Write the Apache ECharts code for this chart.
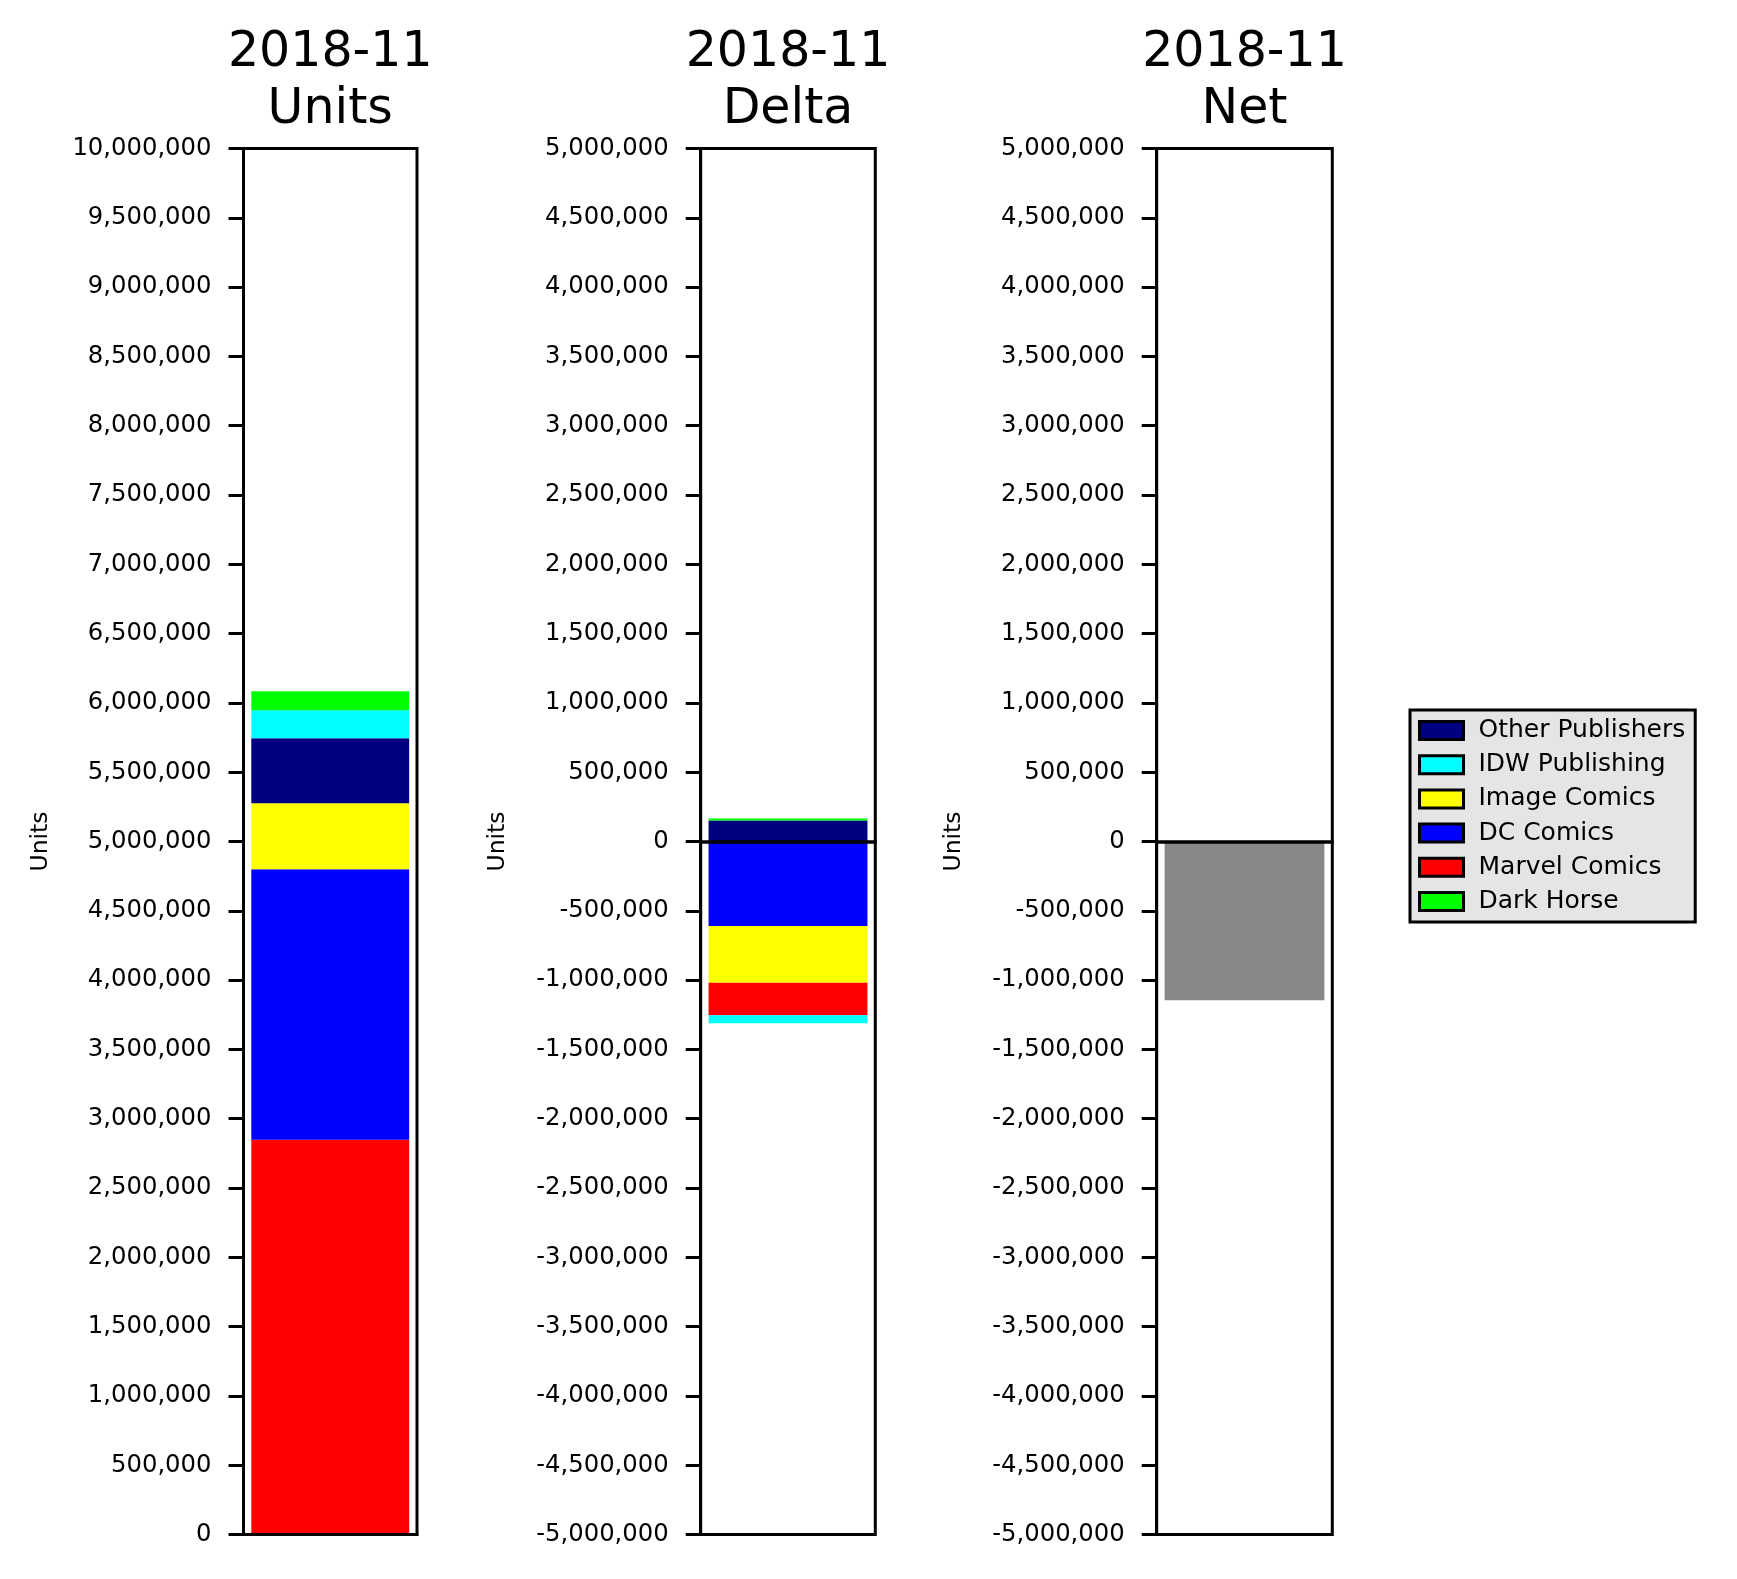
<!DOCTYPE html>
<html>
<head>
<meta charset="utf-8">
<script src="https://cdn.jsdelivr.net/npm/echarts@6/dist/echarts.min.js"></script>
<style>
  html, body { margin: 0; padding: 0; background: #fff; }
  #chart { width: 1737px; height: 1579px; }
</style>
</head>
<body>
<div id="chart"></div>
<script>
// ---- data ----
const months = ['2018-11'];
const publishers = ['Marvel Comics', 'DC Comics', 'Image Comics', 'Other Publishers', 'IDW Publishing', 'Dark Horse'];
const unitsValues = [2848000, 1952000, 476000, 469000, 202000, 137000];
const deltaValues = [-235000, -609000, -410000, 152000, -58000, 14500];
const netValues = [-1145000];
const legendOrder = ['Other Publishers', 'IDW Publishing', 'Image Comics', 'DC Comics', 'Marvel Comics', 'Dark Horse'];
const panelTitles = ['2018-11\nUnits', '2018-11\nDelta', '2018-11\nNet'];
const unitsRange = [0, 10000000];
const deltaRange = [-5000000, 5000000];
const tickStep = 500000;

// ---- style ----
const colors = {
  'Marvel Comics': '#ff0000',
  'DC Comics': '#0000ff',
  'Image Comics': '#ffff00',
  'Other Publishers': '#000080',
  'IDW Publishing': '#00ffff',
  'Dark Horse': '#00ff00'
};
const netColor = '#888888';
const FONT = 'DejaVu Sans';
const grids = [
  { left: 243.5, top: 148.5, width: 173.5, height: 1386 },
  { left: 700.7, top: 148.5, width: 174.6, height: 1386 },
  { left: 1156.7, top: 148.5, width: 175.6, height: 1386 }
];

const chart = echarts.init(document.getElementById('chart'), null, { renderer: 'canvas' });

function yAxis(idx, range) {
  return {
    type: 'value', gridIndex: idx, min: range[0], max: range[1], interval: tickStep,
    name: 'Units', nameLocation: 'middle', nameGap: 191,
    nameTextStyle: { fontFamily: FONT, fontSize: 23.5, color: '#000' },
    axisLine: { show: true, lineStyle: { color: '#000', width: 3 } },
    axisTick: { show: true, length: 15, lineStyle: { color: '#000', width: 3 } },
    axisLabel: { fontFamily: FONT, fontSize: 24.3, color: '#000', margin: 32,
      formatter: v => Number(v).toLocaleString('en-US') },
    splitLine: { show: false }
  };
}
function xAxis(idx, zw) {
  return {
    type: 'category', gridIndex: idx, data: months, z: 10,
    axisLine: { show: true, onZero: true, lineStyle: { color: '#000', width: zw } },
    axisTick: { show: false }, axisLabel: { show: false }, splitLine: { show: false }
  };
}

const series = [];
publishers.forEach((p, i) => {
  series.push({
    type: 'bar', name: p, stack: 'units', xAxisIndex: 0, yAxisIndex: 0,
    barWidth: '91%', itemStyle: { color: colors[p] },
    data: [unitsValues[i]]
  });
});
const deltaOrder = publishers.map((p, i) => i)
  .sort((a, b) => Math.abs(deltaValues[b]) - Math.abs(deltaValues[a]));
deltaOrder.forEach(i => {
  const p = publishers[i];
  series.push({
    type: 'bar', name: p, stack: 'delta', xAxisIndex: 1, yAxisIndex: 1,
    barWidth: '91%', itemStyle: { color: colors[p] },
    data: [deltaValues[i]]
  });
});
series.push({
  type: 'bar', name: 'Net', xAxisIndex: 2, yAxisIndex: 2,
  barWidth: '91%', itemStyle: { color: netColor },
  data: netValues
});

const option = {
  animation: false,
  backgroundColor: '#ffffff',
  textStyle: { fontFamily: FONT },
  title: panelTitles.map((t, i) => ({
    text: t, left: grids[i].left + grids[i].width / 2, top: 25, padding: 0,
    textAlign: 'center',
    textStyle: { fontFamily: FONT, fontSize: 49, fontWeight: 'normal', color: '#000', lineHeight: 57 }
  })),
  legend: {
    data: legendOrder, orient: 'vertical', left: 1410, top: 710,
    padding: [8, 10, 8, 8], itemGap: 9.2, itemWidth: 44, itemHeight: 18,
    icon: 'rect',
    backgroundColor: '#e5e5e5', borderColor: '#000', borderWidth: 3,
    itemStyle: { borderColor: '#000', borderWidth: 3 },
    textStyle: { fontFamily: FONT, fontSize: 25, color: '#000', padding: [0, 0, 0, 10] },
    selectedMode: false
  },
  grid: grids.map(g => ({ left: g.left, top: g.top, width: g.width, height: g.height,
    show: true, borderColor: '#000', borderWidth: 3, backgroundColor: 'transparent' })),
  xAxis: [xAxis(0, 3), xAxis(1, 3.5), xAxis(2, 3.5)],
  yAxis: [yAxis(0, unitsRange), yAxis(1, deltaRange), yAxis(2, deltaRange)],
  series: series
};
chart.setOption(option);
</script>
</body>
</html>
